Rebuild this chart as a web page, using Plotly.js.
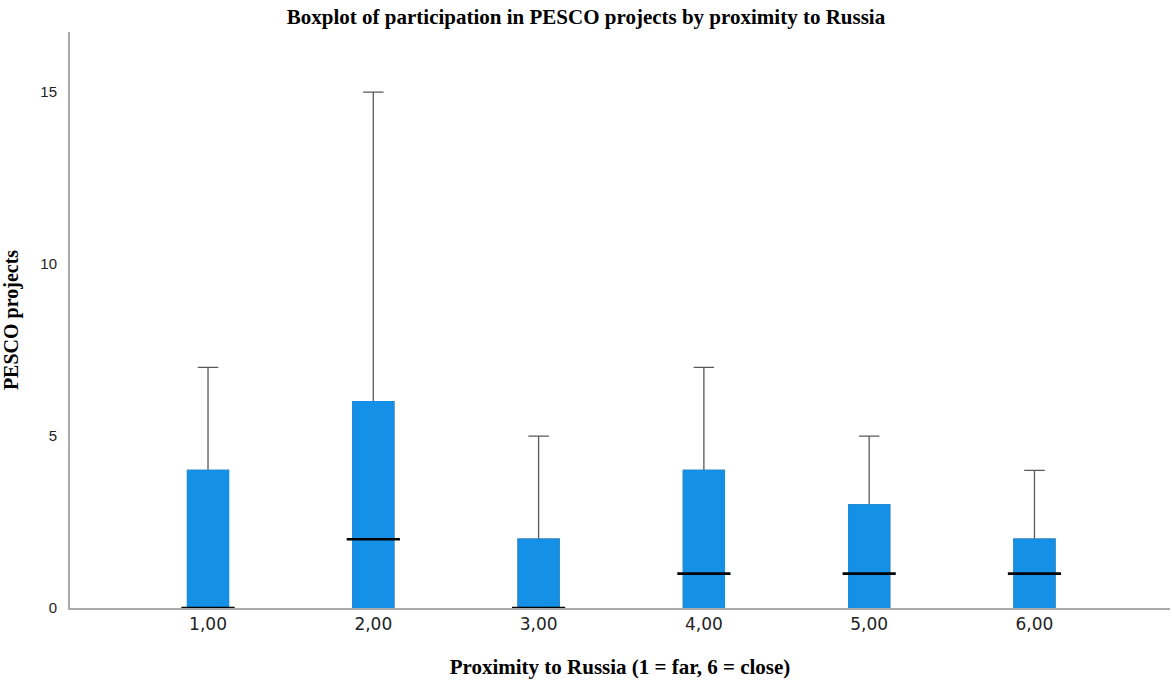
<!DOCTYPE html>
<html>
<head>
<meta charset="utf-8">
<script src="https://cdn.plot.ly/plotly-3.0.1.min.js"></script>
<style>html,body{margin:0;padding:0;background:#fff;}#chart{width:1172px;height:685px;}</style>
</head>
<body>
<div id="chart"></div>
<script>
// Data
const categories = [1, 2, 3, 4, 5, 6];
const tickLabels = ["1,00", "2,00", "3,00", "4,00", "5,00", "6,00"];
const lowerWhisker = [0, 0, 0, 0, 0, 0];
const q1 = [0, 0, 0, 0, 0, 0];
const median = [0, 2, 0, 1, 1, 1];
const q3 = [4, 6, 2, 4, 3, 2];
const upperWhisker = [7, 15, 5, 7, 5, 4];

const boxColor = "#1490E6";
const whiskerColor = "#5a5a5a";
const boxWidth = 0.248;

const traces = [
  // whiskers (gray) + box
  {
    type: "box", x: categories, q1: q1, median: q1, q3: q3,
    lowerfence: lowerWhisker, upperfence: upperWhisker,
    width: boxWidth, whiskerwidth: 0.5,
    fillcolor: boxColor, line: {color: whiskerColor, width: 1.3},
    boxpoints: false, hoverinfo: "skip", showlegend: false
  },
  // box body (blue outline covers gray outline)
  {
    type: "box", x: categories, q1: q1, median: q1, q3: q3,
    lowerfence: q1, upperfence: q3,
    width: boxWidth, whiskerwidth: 0,
    fillcolor: boxColor, line: {color: boxColor, width: 1.3},
    boxpoints: false, hoverinfo: "skip", showlegend: false
  },
  // medians
  {
    type: "scatter", mode: "markers", x: categories, y: median,
    marker: {symbol: "line-ew", size: 38, line: {color: "#000", width: 2.6}},
    hoverinfo: "skip", showlegend: false, cliponaxis: false
  }
];

const layout = {
  width: 1172, height: 685,
  paper_bgcolor: "#fff", plot_bgcolor: "#fff",
  margin: {l: 70, r: 2, t: 32, b: 77},
  boxmode: "overlay",
  showlegend: false,
  title: {
    text: "<b>Boxplot of participation in PESCO projects by proximity to Russia</b>",
    font: {family: "Liberation Serif, Times New Roman, serif", size: 21, color: "#000"},
    x: 0.5, xanchor: "center", y: 0.975, yanchor: "middle"
  },
  xaxis: {
    range: [0.165, 6.82],
    tickvals: categories, ticktext: tickLabels,
    ticks: "", showgrid: false, zeroline: false,
    showline: true, linecolor: "#aaaaaa", linewidth: 2,
    tickfont: {family: "DejaVu Sans, sans-serif", size: 17, color: "#222"},
    title: {text: "<b>Proximity to Russia (1 = far, 6 = close)</b>",
      font: {family: "Liberation Serif, Times New Roman, serif", size: 21, color: "#000"},
      standoff: 26}
  },
  yaxis: {
    range: [0, 16.75],
    tickvals: [0, 5, 10, 15], ticktext: ["0", "5", "10", "15"],
    ticks: "", showgrid: false, zeroline: false,
    showline: true, linecolor: "#aaaaaa", linewidth: 2,
    tickfont: {family: "Liberation Sans, Arial, sans-serif", size: 15, color: "#222"},
    ticklabelstandoff: 8,
    title: {text: "<b>PESCO projects</b>",
      font: {family: "Liberation Serif, Times New Roman, serif", size: 20, color: "#000"},
      standoff: 16}
  }
};

Plotly.newPlot("chart", traces, layout, {displayModeBar: false, staticPlot: true});
</script>
</body>
</html>
